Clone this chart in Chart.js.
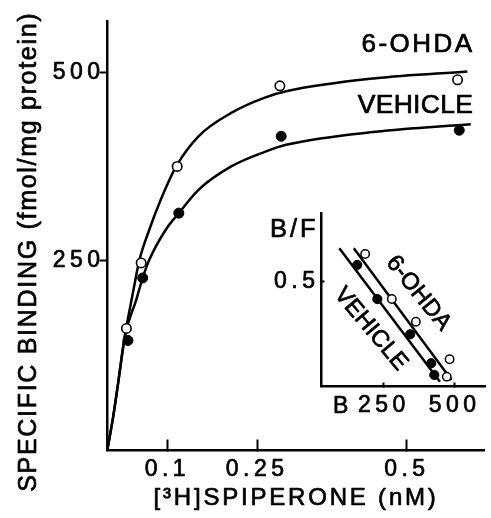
<!DOCTYPE html>
<html>
<head>
<meta charset="utf-8">
<script src="https://cdn.jsdelivr.net/npm/chart.js@4.4.1/dist/chart.umd.min.js"></script>
<style>
  html, body { margin: 0; padding: 0; background: #fff; }
  #wrap { position: relative; width: 491px; height: 518px; }
  #main { position: absolute; left: 0; top: 0; }
  #inset { position: absolute; left: 250px; top: 190px; }
</style>
</head>
<body>
<div id="wrap">
  <canvas id="main" width="491" height="518"></canvas>
  <canvas id="inset" width="241" height="240"></canvas>
</div>
<script>
// ---------- main saturation plot ----------
const X_TICKS = [0.1, 0.25, 0.5];
const X_TICK_LABELS = ['0.1', '0.25', '0.5'];
const Y_TICKS = [250, 500];
const Y_TICK_LABELS = ['250', '500'];
const X_TITLE = '[\u00B3H]SPIPERONE (nM)';
const Y_TITLE = 'SPECIFIC BINDING (fmol/mg protein)';

// measured points (nM, fmol/mg protein)
const OHDA_CONC  = [0.0316, 0.0562, 0.1164, 0.2879, 0.5847];
const OHDA_BOUND = [160, 247, 375, 482, 490];
const VEH_CONC   = [0.0342, 0.0588, 0.1191, 0.2901, 0.5875];
const VEH_BOUND  = [144, 227, 313, 415, 423];

// fitted curves
const OHDA_CURVE_X = [0, 0.0095, 0.0177, 0.0288, 0.0424, 0.0534, 0.0698, 0.0891, 0.1147, 0.152, 0.2067, 0.2616, 0.300, 0.4478, 0.6011];
const OHDA_CURVE_Y = [0, 43, 87, 149, 207, 251, 291, 331, 375, 415, 446, 466, 475, 492, 501];
const VEH_CURVE_X  = [0, 0.0095, 0.0177, 0.0288, 0.048, 0.0588, 0.0698, 0.0973, 0.1191, 0.152, 0.2067, 0.2616, 0.300, 0.4478, 0.6067];
const VEH_CURVE_Y  = [0, 43, 87, 149, 198, 227, 251, 291, 313, 344, 375, 394, 404, 421, 431];

// ---------- inset Scatchard plot ----------
const INSET_X_TICKS = [250, 500];
const INSET_X_TICK_LABELS = ['250', '500'];
const INSET_Y_TICKS = [0.5];
const INSET_Y_TICK_LABELS = ['0.5'];

const OHDA_B  = [184, 278, 363, 482, 472];
const OHDA_BF = [0.632, 0.417, 0.309, 0.130, 0.047];
const VEH_B   = [156, 227, 343, 417, 428];
const VEH_BF  = [0.580, 0.417, 0.249, 0.111, 0.055];

const OHDA_FIT_B  = [144, 489];
const OHDA_FIT_BF = [0.659, 0.031];
const VEH_FIT_B   = [93, 448];
const VEH_FIT_BF  = [0.659, 0.023];

// ---------- styling ----------
const FAMILY = "'Liberation Sans', Arial, Helvetica, sans-serif";
// letter spacing (px) per font size, to mimic the wide tracking of the original lettering
const SPACING = { '23': 4.5, '24': 2.8, '25': 1.7, '26': 2.5, '26.5': 0.3, '25.5': 3, '23.5': 0 };
const TEXT_STROKE = 0.7; // slightly heavier lettering, like the printed original

function hookText(ctx) {
  const proto = CanvasRenderingContext2D.prototype;
  if ('letterSpacing' in ctx) {
    const desc = Object.getOwnPropertyDescriptor(proto, 'font');
    Object.defineProperty(ctx, 'font', {
      configurable: true,
      get() { return desc.get.call(this); },
      set(v) {
        desc.set.call(this, v);
        const m = /([\d.]+)px/.exec(v);
        const s = m ? SPACING[String(parseFloat(m[1]))] : 0;
        this.letterSpacing = (s || 0) + 'px';
      }
    });
  }
  const pf = proto.fillText;
  ctx.fillText = function (t, x, y, mw) {
    if (mw === undefined) pf.call(this, t, x, y); else pf.call(this, t, x, y, mw);
    const lw = this.lineWidth, ss = this.strokeStyle, lj = this.lineJoin;
    this.lineWidth = TEXT_STROKE;
    this.strokeStyle = this.fillStyle;
    this.lineJoin = 'round';
    if (mw === undefined) this.strokeText(t, x, y); else this.strokeText(t, x, y, mw);
    this.lineWidth = lw; this.strokeStyle = ss; this.lineJoin = lj;
  };
}

const pts = (xs, ys) => xs.map((x, i) => ({ x, y: ys[i] }));

Chart.defaults.font.family = FAMILY;
Chart.defaults.color = '#000';

const mainCanvas = document.getElementById('main');
hookText(mainCanvas.getContext('2d'));
const insetCanvas = document.getElementById('inset');
hookText(insetCanvas.getContext('2d'));

const mainText = {
  id: 'mainText',
  afterDraw(chart) {
    const { ctx, chartArea: a } = chart;
    ctx.save();
    ctx.fillStyle = '#000';
    ctx.textAlign = 'right';
    ctx.textBaseline = 'alphabetic';
    ctx.font = '26px ' + FAMILY;
    ctx.fillText('6-OHDA', a.right - 10, a.top + 31);
    ctx.font = '26.5px ' + FAMILY;
    ctx.fillText('VEHICLE', a.right - 11.5, a.top + 92);
    ctx.font = '25px ' + FAMILY;
    ctx.translate(a.left - 78.5, (a.top + a.bottom) / 2 + 16);
    ctx.rotate(-Math.PI / 2);
    ctx.textAlign = 'center';
    ctx.textBaseline = 'middle';
    ctx.fillText(Y_TITLE, 0, 0);
    ctx.restore();
  }
};

new Chart(mainCanvas, {
  type: 'scatter',
  data: {
    datasets: [
      { label: '6-OHDA', data: pts(OHDA_CONC, OHDA_BOUND), showLine: false,
        pointRadius: 4.7, pointBackgroundColor: '#fff', pointBorderColor: '#000', pointBorderWidth: 1.6, order: 0 },
      { label: 'VEHICLE', data: pts(VEH_CONC, VEH_BOUND), showLine: false,
        pointRadius: 5, pointBackgroundColor: '#000', pointBorderColor: '#000', pointBorderWidth: 1, order: 0 },
      { label: '6-OHDA fit', data: pts(OHDA_CURVE_X, OHDA_CURVE_Y), showLine: true, pointRadius: 0,
        borderColor: '#000', borderWidth: 2.5, cubicInterpolationMode: 'monotone', fill: false, order: 1 },
      { label: 'VEHICLE fit', data: pts(VEH_CURVE_X, VEH_CURVE_Y), showLine: true, pointRadius: 0,
        borderColor: '#000', borderWidth: 2.5, cubicInterpolationMode: 'monotone', fill: false, order: 1 }
    ]
  },
  options: {
    responsive: false, animation: false, devicePixelRatio: 1, events: [],
    layout: { padding: { left: 0, right: 0, top: 21, bottom: 0 } },
    plugins: { legend: { display: false }, tooltip: { enabled: false } },
    scales: {
      x: {
        type: 'linear', min: 0, max: 0.63,
        afterBuildTicks: s => { s.ticks = X_TICKS.map(v => ({ value: v })); },
        afterFit: s => { s.height = 67.5; },
        ticks: { autoSkip: false, maxRotation: 0, minRotation: 0, padding: 16, color: '#000',
                 font: { size: 23, family: FAMILY }, callback: (v, i) => X_TICK_LABELS[i] },
        grid: { drawOnChartArea: false, drawTicks: true, tickLength: -11, tickWidth: 2, tickColor: '#000' },
        border: { display: true, color: '#000', width: 2.5 },
        title: { display: true, text: X_TITLE, color: '#000', font: { size: 24, family: FAMILY },
                 padding: { top: 0, bottom: 5.2 } }
      },
      y: {
        type: 'linear', min: -2, max: 568,
        afterBuildTicks: s => { s.ticks = Y_TICKS.map(v => ({ value: v })); },
        afterFit: s => { s.width = 107.5; },
        ticks: { padding: -5, color: '#000', font: { size: 23, family: FAMILY },
                 callback: (v, i) => Y_TICK_LABELS[i] },
        grid: { drawOnChartArea: false, drawTicks: true, tickLength: 8, tickWidth: 2, tickColor: '#000' },
        border: { display: true, color: '#000', width: 2.5 }
      }
    }
  },
  plugins: [mainText]
});

const insetText = {
  id: 'insetText',
  afterDraw(chart) {
    const { ctx, chartArea: a, scales } = chart;
    ctx.save();
    ctx.fillStyle = '#000';
    ctx.textAlign = 'left';
    ctx.textBaseline = 'alphabetic';
    ctx.font = '25.5px ' + FAMILY;
    ctx.fillText('B/F', a.left - 51.5, a.top + 23.4);
    ctx.font = '23px ' + FAMILY;
    ctx.fillText('B', a.left + 11.5, a.bottom + 26.8);
    ctx.font = '23.5px ' + FAMILY;
    ctx.textAlign = 'center';
    ctx.textBaseline = 'middle';
    const labels = [
      { text: '6-OHDA', b: 372, bf: 0.445, angle: 51 },
      { text: 'VEHICLE', b: 204, bf: 0.274, angle: 50 }
    ];
    for (const L of labels) {
      ctx.save();
      ctx.translate(scales.x.getPixelForValue(L.b), scales.y.getPixelForValue(L.bf));
      ctx.rotate(L.angle * Math.PI / 180);
      ctx.fillText(L.text, 0, 0);
      ctx.restore();
    }
    ctx.restore();
  }
};

new Chart(insetCanvas, {
  type: 'scatter',
  data: {
    datasets: [
      { label: '6-OHDA', data: pts(OHDA_B, OHDA_BF), showLine: false,
        pointRadius: 4.2, pointBackgroundColor: '#fff', pointBorderColor: '#000', pointBorderWidth: 1.5, order: 0 },
      { label: 'VEHICLE', data: pts(VEH_B, VEH_BF), showLine: false,
        pointRadius: 4.6, pointBackgroundColor: '#000', pointBorderColor: '#000', pointBorderWidth: 1, order: 0 },
      { label: '6-OHDA fit', data: pts(OHDA_FIT_B, OHDA_FIT_BF), showLine: true, pointRadius: 0,
        borderColor: '#000', borderWidth: 2.5, fill: false, order: 1 },
      { label: 'VEHICLE fit', data: pts(VEH_FIT_B, VEH_FIT_BF), showLine: true, pointRadius: 0,
        borderColor: '#000', borderWidth: 2.5, fill: false, order: 1 }
    ]
  },
  options: {
    responsive: false, animation: false, devicePixelRatio: 1, events: [],
    layout: { padding: { left: 0, right: 0, top: 23.3, bottom: 0 } },
    plugins: { legend: { display: false }, tooltip: { enabled: false } },
    scales: {
      x: {
        type: 'linear', min: 30, max: 608,
        afterBuildTicks: s => { s.ticks = INSET_X_TICKS.map(v => ({ value: v })); },
        afterFit: s => { s.height = 43.5; },
        ticks: { autoSkip: false, maxRotation: 0, minRotation: 0, padding: 9, color: '#000',
                 font: { size: 23, family: FAMILY }, callback: (v, i) => INSET_X_TICK_LABELS[i] },
        grid: { drawOnChartArea: false, drawTicks: true, tickLength: -4, tickWidth: 2, tickColor: '#000' },
        border: { display: true, color: '#000', width: 2.5 }
      },
      y: {
        type: 'linear', min: 0, max: 0.826,
        afterBuildTicks: s => { s.ticks = INSET_Y_TICKS.map(v => ({ value: v })); },
        afterFit: s => { s.width = 71.5; },
        ticks: { padding: 5, color: '#000', font: { size: 23, family: FAMILY },
                 callback: (v, i) => INSET_Y_TICK_LABELS[i] },
        grid: { drawOnChartArea: false, drawTicks: true, tickLength: -3, tickWidth: 2, tickColor: '#000' },
        border: { display: true, color: '#000', width: 2.5 }
      }
    }
  },
  plugins: [insetText]
});
</script>
</body>
</html>
